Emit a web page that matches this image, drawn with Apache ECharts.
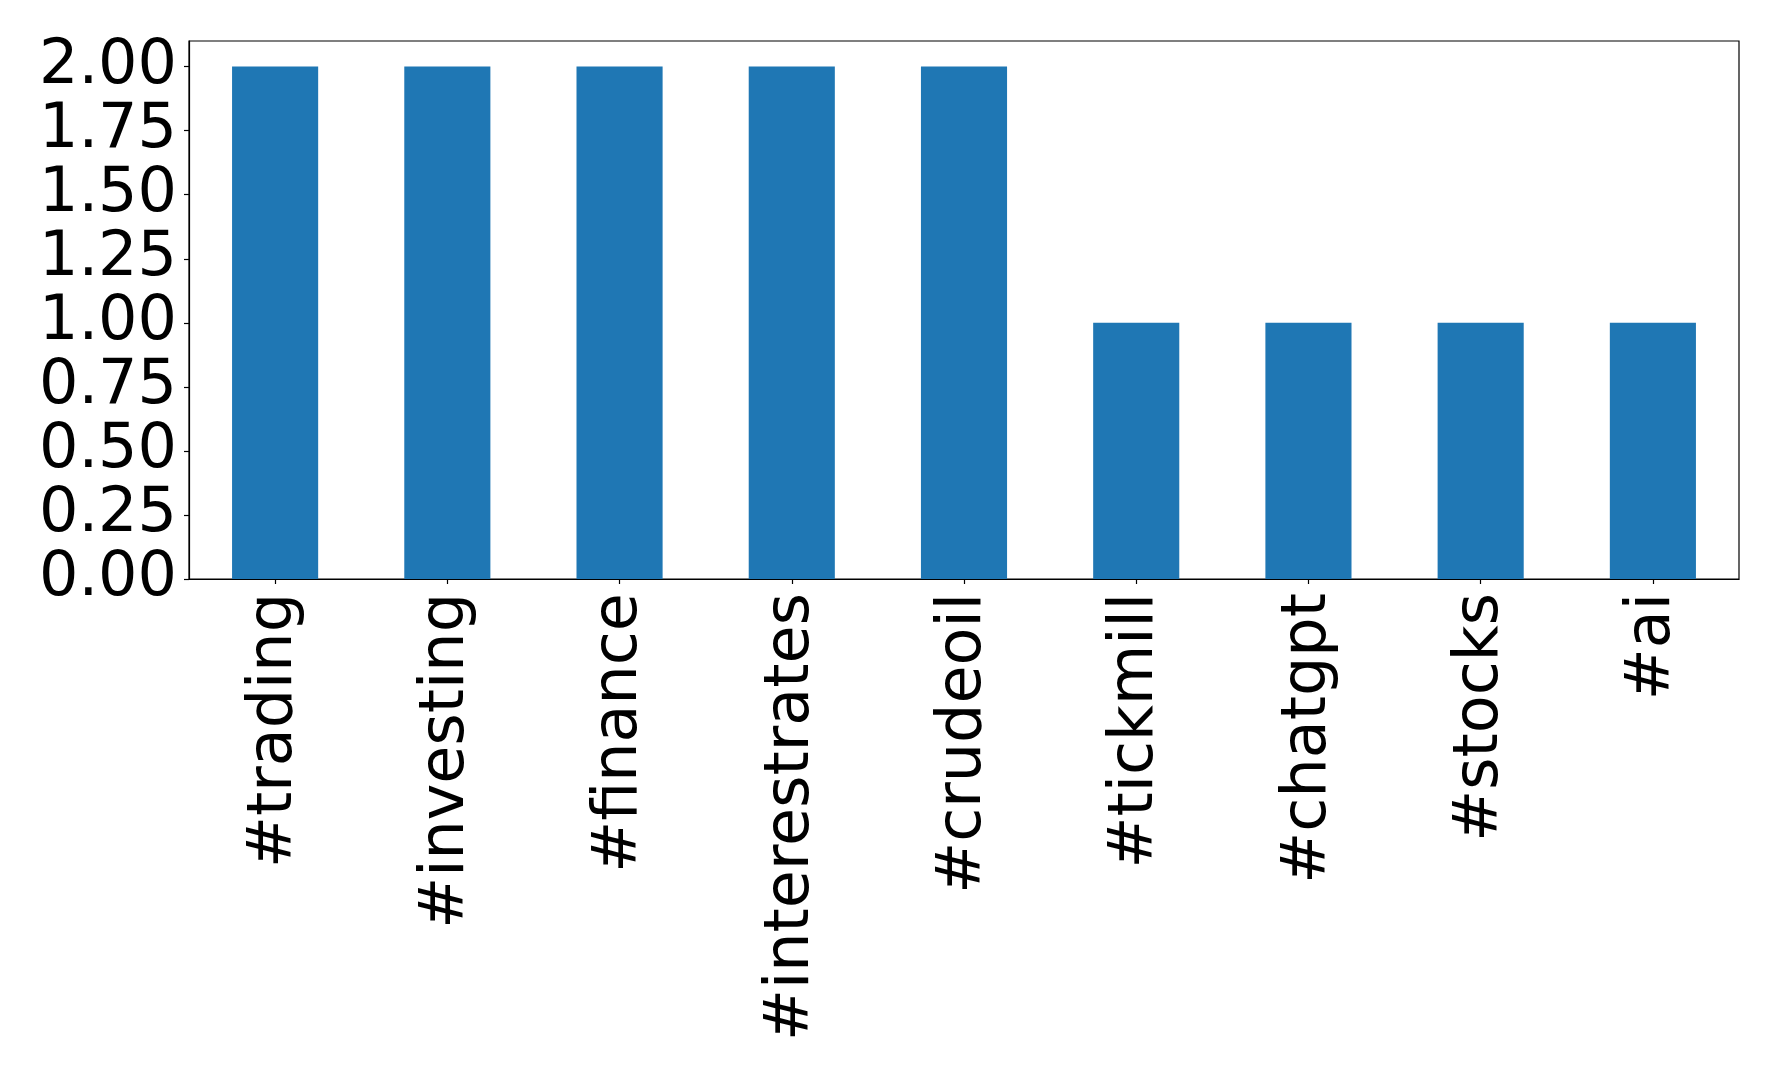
<!DOCTYPE html>
<html>
<head>
<meta charset="utf-8">
<script src="https://cdn.jsdelivr.net/npm/echarts@6/dist/echarts.min.js"></script>
<style>
html,body{margin:0;padding:0;background:#fff;}
#chart{width:1778px;height:1080px;}
</style>
</head>
<body>
<div id="chart"></div>
<script>
const categories = ['#trading','#investing','#finance','#interestrates','#crudeoil','#tickmill','#chatgpt','#stocks','#ai'];
const counts = [2,2,2,2,2,1,1,1,1];
const yTicks = [0,0.25,0.5,0.75,1.0,1.25,1.5,1.75,2.0];

const chart = echarts.init(document.getElementById('chart'));
const font = 'DejaVu Sans';
chart.setOption({
  animation: false,
  backgroundColor: '#fff',
  grid: {left: 189, right: 39, top: 41, bottom: 501, show: true, borderColor: '#000', borderWidth: 1.2, containLabel: false},
  xAxis: {
    type: 'category',
    data: categories,
    boundaryGap: true,
    axisLine: {show: true, lineStyle: {color: '#000', width: 1.2}},
    axisTick: {show: true, alignWithLabel: true, length: 5, lineStyle: {color: '#000', width: 1.2}},
    axisLabel: {rotate: 90, fontFamily: font, fontSize: 62, color: '#000', margin: 14, interval: 0}
  },
  yAxis: {
    type: 'value',
    min: 0, max: 2.1,
    splitLine: {show: false},
    axisLine: {show: true, lineStyle: {color: '#000', width: 1.2}},
    axisTick: {show: true, length: 5, lineStyle: {color: '#000', width: 1.2}, customValues: yTicks},
    axisLabel: {fontFamily: font, fontSize: 62, color: '#000', margin: 12, padding: [6, 0, 0, 0],
      customValues: yTicks, formatter: v => Number(v).toFixed(2)}
  },
  series: [{
    type: 'bar',
    data: counts,
    barWidth: '50%',
    itemStyle: {color: '#1f77b4'}
  }]
});
</script>
</body>
</html>
